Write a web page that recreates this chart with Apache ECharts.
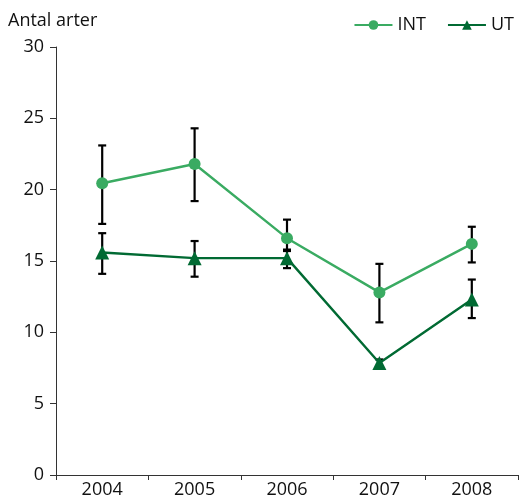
<!DOCTYPE html>
<html><head><meta charset="utf-8">
<script src="https://cdn.jsdelivr.net/npm/echarts@6/dist/echarts.min.js"></script>
<style>html,body{margin:0;padding:0;background:#fff}#c{width:520px;height:502px}</style>
</head><body><div id="c"></div>
<script>
const years = ['2004','2005','2006','2007','2008'];
const intVals = [20.45, 21.8, 16.6, 12.8, 16.2];
const intLow  = [17.6, 19.2, 15.7, 10.7, 14.9];
const intHigh = [23.1, 24.3, 17.9, 14.8, 17.4];
const utVals  = [15.6, 15.2, 15.2, 7.85, 12.3];
const utLow   = [14.1, 13.9, 14.5, 7.6, 11.0];
const utHigh  = [16.95, 16.4, 15.8, 8.1, 13.7];
const yTicks = [0, 5, 10, 15, 20, 25, 30];

const font = 'Open Sans, Noto Sans, sans-serif';
function errSeries(low, high, z) {
  return {
    type: 'custom', z: z, silent: true,
    data: years.map((y, i) => [i, low[i], high[i]]),
    renderItem: function (params, api) {
      const x = api.value(0);
      const lo = api.coord([x, api.value(1)]);
      const hi = api.coord([x, api.value(2)]);
      const w = 4;
      const st = {stroke: '#000', lineWidth: 2.2};
      return {type: 'group', children: [
        {type: 'line', shape: {x1: lo[0], y1: lo[1], x2: hi[0], y2: hi[1]}, style: st},
        {type: 'line', shape: {x1: lo[0]-w, y1: lo[1], x2: lo[0]+w, y2: lo[1]}, style: st},
        {type: 'line', shape: {x1: hi[0]-w, y1: hi[1], x2: hi[0]+w, y2: hi[1]}, style: st}
      ]};
    }
  };
}
const chart = echarts.init(document.getElementById('c'));
chart.setOption({
  animation: false,
  textStyle: {fontFamily: font},
  grid: {left: 56, right: 2, top: 47, bottom: 27, containLabel: false},
  legend: {
    right: 1, top: 11, itemWidth: 38, itemHeight: 12, itemGap: 21,
    textStyle: {fontSize: 18, color: '#111', fontFamily: font},
    data: ['INT', 'UT']
  },
  xAxis: {
    type: 'category', data: years, boundaryGap: true,
    axisLine: {lineStyle: {color: '#333', width: 1}},
    axisTick: {show: true, alignWithLabel: false, length: 5, lineStyle: {color: '#333'}},
    axisLabel: {fontSize: 18, color: '#111', margin: 6, fontFamily: font}
  },
  yAxis: {
    type: 'value', min: yTicks[0], max: yTicks[yTicks.length-1], interval: 5,
    name: 'Antal arter', nameLocation: 'end', nameGap: 17,
    nameTextStyle: {fontSize: 18, color: '#111', align: 'left', padding: [0, 0, 0, -48], fontFamily: font},
    axisLine: {show: true, lineStyle: {color: '#333', width: 1}},
    axisTick: {show: true, length: 6, lineStyle: {color: '#333'}},
    splitLine: {show: false},
    axisLabel: {fontSize: 18, color: '#111', margin: 12, fontFamily: font}
  },
  series: [
    errSeries(intLow, intHigh, 1),
    errSeries(utLow, utHigh, 1),
    {name: 'INT', type: 'line', data: intVals, z: 3,
     symbol: 'circle', symbolSize: 12,
     lineStyle: {color: '#3aab62', width: 2.4}, itemStyle: {color: '#3aab62'}},
    {name: 'UT', type: 'line', data: utVals, z: 4,
     symbol: 'triangle', symbolSize: 14,
     lineStyle: {color: '#016a33', width: 2.4}, itemStyle: {color: '#016a33'}}
  ]
});
</script></body></html>
